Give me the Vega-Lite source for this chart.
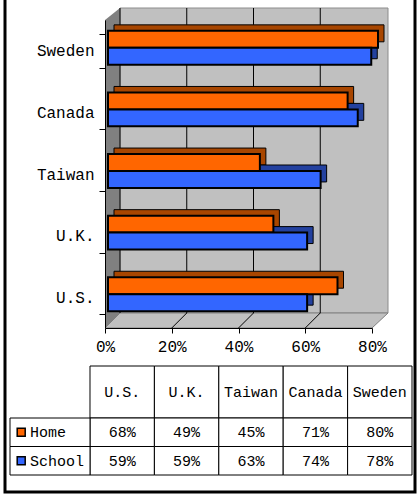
{
  "$schema": "https://vega.github.io/schema/vega-lite/v6.json",
  "width": 410,
  "height": 494,
  "autosize": {"type": "none"},
  "padding": {"left": 5, "top": -2, "right": 2, "bottom": 4},
  "background": "white",
  "config": {
    "view": {"stroke": "black", "strokeWidth": 3},
    "font": "Liberation Mono",
    "text": {"font": "Liberation Mono"}
  },
  "datasets": {
    "survey": [
      {"country": "U.S.", "series": "Home", "value": 0.68},
      {"country": "U.K.", "series": "Home", "value": 0.49},
      {"country": "Taiwan", "series": "Home", "value": 0.45},
      {"country": "Canada", "series": "Home", "value": 0.71},
      {"country": "Sweden", "series": "Home", "value": 0.80},
      {"country": "U.S.", "series": "School", "value": 0.59},
      {"country": "U.K.", "series": "School", "value": 0.59},
      {"country": "Taiwan", "series": "School", "value": 0.63},
      {"country": "Canada", "series": "School", "value": 0.74},
      {"country": "Sweden", "series": "School", "value": 0.78}
    ]
  },
  "data": {"name": "survey"},
  "resolve": {
    "scale": {"x": "independent", "y": "independent", "fill": "independent", "color": "independent", "yOffset": "independent"},
    "axis": {"x": "independent", "y": "independent"}
  },
  "layer": [
    {
      "data": {"values": [{"part": "back wall"}]},
      "mark": {"type": "rect", "fill": "#c0c0c0", "stroke": "#8c8c8c", "strokeWidth": 1, "xOffset": 15, "x2Offset": 16, "yOffset": -15, "y2Offset": -12},
      "encoding": {
        "x": {"datum": 0, "type": "quantitative", "scale": {"domain": [0, 0.8], "range": [100, 367], "nice": false, "zero": false}, "axis": null},
        "x2": {"datum": 0.8},
        "y": {"datum": 0, "type": "quantitative", "scale": {"domain": [0, 1], "range": [330, 22], "nice": false, "zero": false}, "axis": null},
        "y2": {"datum": 1}
      }
    },
    {
      "data": {"values": [{"part": "side wall"}]},
      "mark": {"type": "point", "shape": "M0,0L0,-308L15,-320L15,-15Z", "size": 4, "filled": true, "fill": "#808080", "opacity": 1, "strokeOpacity": 0},
      "encoding": {
        "x": {"datum": 0, "type": "quantitative", "scale": {"domain": [0, 0.8], "range": [100, 367], "nice": false, "zero": false}, "axis": null},
        "y": {"datum": 0, "type": "quantitative", "scale": {"domain": [0, 1], "range": [330, 22], "nice": false, "zero": false}, "axis": null}
      }
    },
    {
      "data": {"values": [{"part": "floor"}]},
      "mark": {"type": "point", "shape": "M0,0L15,-15L283,-15L267,0Z", "size": 4, "filled": true, "fill": "#c0c0c0", "opacity": 1, "stroke": "#808080", "strokeWidth": 1, "strokeOpacity": 1},
      "encoding": {
        "x": {"datum": 0, "type": "quantitative", "scale": {"domain": [0, 0.8], "range": [100, 367], "nice": false, "zero": false}, "axis": null},
        "y": {"datum": 0, "type": "quantitative", "scale": {"domain": [0, 1], "range": [330, 22], "nice": false, "zero": false}, "axis": null}
      }
    },
    {
      "data": {"values": [{"pct": 0}, {"pct": 0.2}, {"pct": 0.4}, {"pct": 0.6}]},
      "mark": {"type": "rule", "color": "black", "strokeWidth": 1, "xOffset": 15, "yOffset": -15, "y2Offset": -12},
      "encoding": {
        "x": {"field": "pct", "type": "quantitative", "scale": {"domain": [0, 0.8], "range": [100, 367], "nice": false, "zero": false}, "axis": null},
        "y": {"datum": 0, "type": "quantitative", "scale": {"domain": [0, 1], "range": [330, 22], "nice": false, "zero": false}, "axis": null},
        "y2": {"datum": 1}
      }
    },
    {
      "data": {"values": [{"pct": 0.2}, {"pct": 0.4}, {"pct": 0.6}]},
      "mark": {"type": "rule", "color": "black", "strokeWidth": 1, "x2Offset": 15, "y2Offset": -15},
      "encoding": {
        "x": {"field": "pct", "type": "quantitative", "scale": {"domain": [0, 0.8], "range": [100, 367], "nice": false, "zero": false}, "axis": null},
        "x2": {"field": "pct"},
        "y": {"datum": 0, "type": "quantitative", "scale": {"domain": [0, 1], "range": [330, 22], "nice": false, "zero": false}, "axis": null},
        "y2": {"datum": 0}
      }
    },
    {
      "mark": {"type": "point", "opacity": 0},
      "encoding": {
        "x": {
          "field": "value", "type": "quantitative",
          "scale": {"domain": [0, 0.8], "range": [100, 367], "nice": false, "zero": false},
          "axis": {"orient": "bottom", "offset": -164, "values": [0, 0.2, 0.4, 0.6, 0.8], "format": ".0%", "tickSize": 5, "labelPadding": 5, "labelFont": "Liberation Mono", "labelFontSize": 16, "labelColor": "black", "domainColor": "black", "tickColor": "black", "title": null, "grid": false, "labelFlush": false, "labelOverlap": false, "zindex": 1}
        },
        "y": {
          "field": "country", "type": "nominal",
          "scale": {"domain": ["Sweden", "Canada", "Taiwan", "U.K.", "U.S."], "range": [22, 330], "paddingInner": 0.45, "paddingOuter": 0.225},
          "axis": {"orient": "left", "offset": -100, "tickBand": "extent", "tickSize": 6, "labelPadding": 5, "labelFont": "Liberation Mono", "labelFontSize": 16, "labelColor": "black", "domainColor": "black", "tickColor": "black", "title": null, "grid": false, "zindex": 1}
        }
      }
    },
    {
      "mark": {"type": "bar", "stroke": "black", "strokeWidth": 1},
      "encoding": {
        "x": {"field": "value", "type": "quantitative", "scale": {"domain": [0, 0.8], "range": [109, 379], "nice": false, "zero": true}, "axis": null},
        "y": {"field": "country", "type": "nominal", "scale": {"domain": ["Sweden", "Canada", "Taiwan", "U.K.", "U.S."], "range": [13, 321], "paddingInner": 0.45, "paddingOuter": 0.225}, "axis": null},
        "yOffset": {"field": "series", "type": "nominal", "scale": {"domain": ["Home", "School"]}},
        "fill": {"field": "series", "type": "nominal", "scale": {"domain": ["Home", "School"], "range": ["#a84600", "#23419f"]}, "legend": null}
      }
    },
    {
      "mark": {"type": "bar", "stroke": "black", "strokeWidth": 2},
      "encoding": {
        "x": {"field": "value", "type": "quantitative", "scale": {"domain": [0, 0.8], "range": [103, 373], "nice": false, "zero": true}, "axis": null},
        "y": {"field": "country", "type": "nominal", "scale": {"domain": ["Sweden", "Canada", "Taiwan", "U.K.", "U.S."], "range": [19, 327], "paddingInner": 0.45, "paddingOuter": 0.225}, "axis": null},
        "yOffset": {"field": "series", "type": "nominal", "scale": {"domain": ["Home", "School"]}},
        "fill": {"field": "series", "type": "nominal", "scale": {"domain": ["Home", "School"], "range": ["#ff6600", "#3366ff"]}, "legend": null}
      }
    },
    {
      "transform": [{"filter": "datum.series === 'Home'"}],
      "mark": {"type": "rect", "fill": "white", "stroke": "black", "strokeWidth": 1},
      "encoding": {
        "x": {"field": "country", "type": "nominal", "scale": {"domain": ["U.S.", "U.K.", "Taiwan", "Canada", "Sweden"], "range": [85, 407], "paddingInner": 0, "paddingOuter": 0}, "axis": null},
        "y": {"datum": 0, "type": "quantitative", "scale": {"domain": [0, 1], "range": [420, 368], "nice": false, "zero": false}, "axis": null},
        "y2": {"datum": 1}
      }
    },
    {
      "transform": [{"filter": "datum.series === 'Home'"}],
      "mark": {"type": "text", "font": "Liberation Mono", "fontSize": 15, "align": "center", "baseline": "middle", "color": "black"},
      "encoding": {
        "text": {"field": "country"},
        "x": {"field": "country", "type": "nominal", "scale": {"domain": ["U.S.", "U.K.", "Taiwan", "Canada", "Sweden"], "range": [85, 407], "paddingInner": 0, "paddingOuter": 0}, "axis": null},
        "y": {"datum": 0.5, "type": "quantitative", "scale": {"domain": [0, 1], "range": [420, 368], "nice": false, "zero": false}, "axis": null}
      }
    },
    {
      "mark": {"type": "rect", "fill": "white", "stroke": "black", "strokeWidth": 1},
      "encoding": {
        "x": {"field": "country", "type": "nominal", "scale": {"domain": ["U.S.", "U.K.", "Taiwan", "Canada", "Sweden"], "range": [85, 407], "paddingInner": 0, "paddingOuter": 0}, "axis": null},
        "y": {"field": "series", "type": "nominal", "scale": {"domain": ["Home", "School"], "range": [420, 477], "paddingInner": 0, "paddingOuter": 0}, "axis": null}
      }
    },
    {
      "mark": {"type": "text", "font": "Liberation Mono", "fontSize": 15, "align": "center", "baseline": "middle", "color": "black"},
      "encoding": {
        "text": {"field": "value", "type": "quantitative", "format": ".0%"},
        "x": {"field": "country", "type": "nominal", "scale": {"domain": ["U.S.", "U.K.", "Taiwan", "Canada", "Sweden"], "range": [85, 407], "paddingInner": 0, "paddingOuter": 0}, "axis": null},
        "y": {"field": "series", "type": "nominal", "scale": {"domain": ["Home", "School"], "range": [420, 477], "paddingInner": 0, "paddingOuter": 0}, "axis": null}
      }
    },
    {
      "transform": [{"filter": "datum.country === 'U.S.'"}],
      "mark": {"type": "rect", "fill": "white", "stroke": "black", "strokeWidth": 1},
      "encoding": {
        "x": {"datum": 0, "type": "quantitative", "scale": {"domain": [0, 1], "range": [5, 85], "nice": false, "zero": false}, "axis": null},
        "x2": {"datum": 1},
        "y": {"field": "series", "type": "nominal", "scale": {"domain": ["Home", "School"], "range": [420, 477], "paddingInner": 0, "paddingOuter": 0}, "axis": null}
      }
    },
    {
      "transform": [{"filter": "datum.country === 'U.S.'"}],
      "mark": {"type": "point", "shape": "square", "size": 64, "filled": true, "opacity": 1, "stroke": "black", "strokeWidth": 1.5, "strokeOpacity": 1},
      "encoding": {
        "x": {"datum": 0.14, "type": "quantitative", "scale": {"domain": [0, 1], "range": [5, 85], "nice": false, "zero": false}, "axis": null},
        "y": {"field": "series", "type": "nominal", "scale": {"domain": ["Home", "School"], "range": [420, 477], "paddingInner": 0, "paddingOuter": 0}, "axis": null},
        "fill": {"field": "series", "type": "nominal", "scale": {"domain": ["Home", "School"], "range": ["#ff6600", "#3366ff"]}, "legend": null}
      }
    },
    {
      "transform": [{"filter": "datum.country === 'U.S.'"}],
      "mark": {"type": "text", "font": "Liberation Mono", "fontSize": 15, "align": "left", "baseline": "middle", "color": "black"},
      "encoding": {
        "text": {"field": "series"},
        "x": {"datum": 0.25, "type": "quantitative", "scale": {"domain": [0, 1], "range": [5, 85], "nice": false, "zero": false}, "axis": null},
        "y": {"field": "series", "type": "nominal", "scale": {"domain": ["Home", "School"], "range": [420, 477], "paddingInner": 0, "paddingOuter": 0}, "axis": null}
      }
    }
  ]
}
